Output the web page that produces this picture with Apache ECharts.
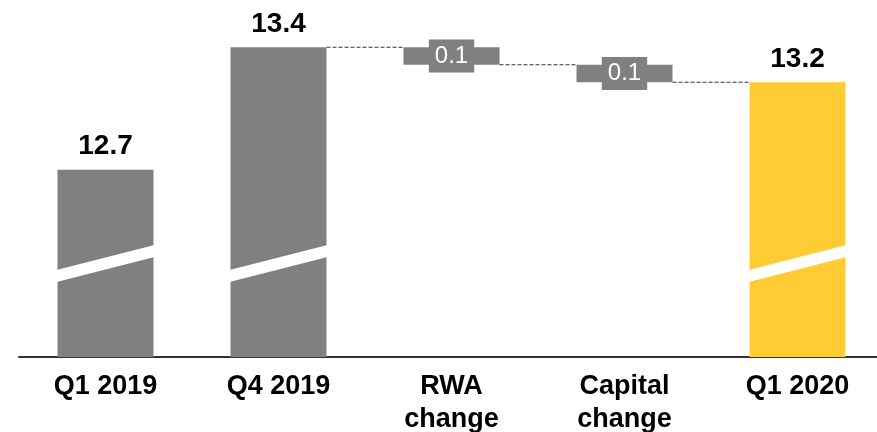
<!DOCTYPE html>
<html>
<head>
<meta charset="utf-8">
<script src="https://cdn.jsdelivr.net/npm/echarts@6/dist/echarts.min.js"></script>
<style>
  html, body { margin: 0; padding: 0; background: #fff; }
  #chart { width: 877px; height: 432px; }
</style>
</head>
<body>
<div id="chart"></div>
<script>
// Waterfall of the ratio from Q1 2019 to Q1 2020
const categories = ['Q1 2019', 'Q4 2019', 'RWA\nchange', 'Capital\nchange', 'Q1 2020'];
const totals = [12.7, 13.4, null, null, 13.2];
const changes = [null, null, -0.1, -0.1, null];

const GRAY = '#808080';
const YELLOW = '#FFCC33';
const FONT = '"Liberation Sans", Arial, sans-serif';
const Y_MIN = 11.63;
const Y_MAX = 13.63;
const BAR_W = 96;

// running level before each step, used for floating bars and connectors
const baseData = [];
const stepData = [];
const totalData = [];
const connectors = [];
let level = null;
categories.forEach((c, i) => {
  const isTotal = totals[i] != null;
  const nextIsStep = i < categories.length - 1 && totals[i + 1] == null;
  if (isTotal) {
    baseData.push(null);
    stepData.push(null);
    totalData.push({
      value: totals[i],
      itemStyle: { color: i === categories.length - 1 ? YELLOW : GRAY }
    });
    level = totals[i];
  } else {
    const d = changes[i];
    const low = Math.min(level, level + d);
    baseData.push(low);
    stepData.push(Math.abs(d));
    totalData.push(null);
    level = level + d;
  }
  // connectors only run into and out of the floating steps
  if (i < categories.length - 1 && (nextIsStep || !isTotal)) connectors.push([i, level]);
});
const breakBars = totals
  .map((v, i) => (v != null ? [i, Y_MIN] : null))
  .filter(v => v != null);

const chart = echarts.init(document.getElementById('chart'));
chart.setOption({
  animation: false,
  backgroundColor: '#fff',
  grid: { left: 19, width: 865, top: 7, bottom: 75, outerBoundsMode: 'none', containLabel: false },
  xAxis: {
    type: 'category',
    data: categories,
    axisLine: { lineStyle: { color: '#333', width: 2 } },
    axisTick: { show: false },
    axisLabel: {
      color: '#000',
      fontFamily: FONT,
      fontWeight: 'bold',
      fontSize: 27,
      lineHeight: 33,
      margin: 13,
      interval: 0
    }
  },
  yAxis: {
    type: 'value',
    min: Y_MIN,
    max: Y_MAX,
    show: false,
    splitLine: { show: false }
  },
  series: [
    {
      name: 'base',
      type: 'bar',
      stack: 'w',
      barWidth: BAR_W,
      data: baseData,
      itemStyle: { color: 'transparent' },
      emphasis: { disabled: true }
    },
    {
      name: 'step',
      type: 'bar',
      stack: 'w',
      barWidth: BAR_W,
      data: stepData,
      itemStyle: { color: GRAY },
      label: {
        show: true,
        position: 'inside',
        formatter: p => p.value.toFixed(1),
        color: '#fff',
        fontFamily: FONT,
        fontSize: 24,
        backgroundColor: GRAY,
        padding: [4, 6, 5, 6]
      }
    },
    {
      name: 'total',
      type: 'bar',
      stack: 'w',
      barWidth: BAR_W,
      data: totalData,
      label: {
        show: true,
        position: 'top',
        distance: 9,
        formatter: p => p.value.toFixed(1),
        color: '#000',
        fontFamily: FONT,
        fontWeight: 'bold',
        fontSize: 28
      }
    },
    {
      // axis-break slash across the full bars
      name: 'break',
      type: 'custom',
      z: 5,
      data: breakBars,
      renderItem: (params, api) => {
        const p = api.coord([api.value(0), api.value(1)]);
        const h = BAR_W / 2 + 1;
        return {
          type: 'polygon',
          shape: {
            points: [
              [p[0] - h, p[1] - 75],
              [p[0] + h, p[1] - 100],
              [p[0] + h, p[1] - 112],
              [p[0] - h, p[1] - 87]
            ]
          },
          style: { fill: '#fff' }
        };
      }
    },
    {
      // dashed connectors between consecutive bars
      name: 'connector',
      type: 'custom',
      z: 1,
      data: connectors,
      renderItem: (params, api) => {
        const i = api.value(0);
        const v = api.value(1);
        const a = api.coord([i, v]);
        const b = api.coord([i + 1, v]);
        return {
          type: 'line',
          shape: { x1: a[0] + BAR_W / 2, y1: a[1], x2: b[0] - BAR_W / 2, y2: b[1] },
          style: { stroke: '#333', lineWidth: 1, lineDash: [4, 2] }
        };
      }
    }
  ]
});
</script>
</body>
</html>
